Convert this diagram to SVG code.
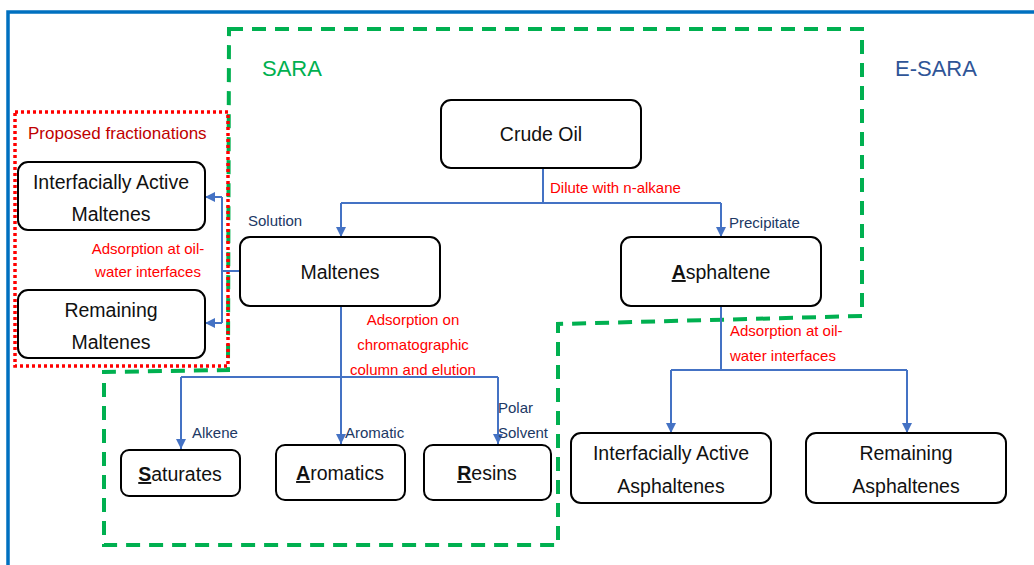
<svg xmlns="http://www.w3.org/2000/svg" width="1034" height="565" viewBox="0 0 1034 565">
<defs>
<marker id="arr" viewBox="0 0 10 10" refX="10" refY="5" markerWidth="5" markerHeight="5" orient="auto" markerUnits="strokeWidth">
<path d="M0,0 L10,5 L0,10 z" fill="#4472C4"/>
</marker>
<style>
.box{fill:#fff;stroke:#000;stroke-width:2}
.t{font-family:"Liberation Sans",Arial,sans-serif;font-size:19.5px;fill:#111;text-anchor:middle}
.lbl{font-family:"Liberation Sans",Arial,sans-serif;font-size:15px;fill:#203864}
.red{font-family:"Liberation Sans",Arial,sans-serif;font-size:15px;fill:#FF0000}
.con{fill:none;stroke:#4472C4;stroke-width:2}
.u{font-weight:bold;text-decoration:underline}
</style>
</defs>
<rect width="1034" height="565" fill="#fff"/>
<path d="M8,565 V12 H1034" fill="none" stroke="#0070C0" stroke-width="3.5"/>
<g id="sara-region">
<path d="M229,29 H862 V316 L558,324 V545 H104 V372 L228,370 Z" fill="none" stroke="#00B050" stroke-width="4" stroke-dasharray="14,9"/>
<text x="262" y="76" style="font-family:'Liberation Sans',Arial,sans-serif;font-size:22px;fill:#00B050">SARA</text>
</g>
<g id="esara-label">
<text x="895" y="76" style="font-family:'Liberation Sans',Arial,sans-serif;font-size:22px;fill:#2F5597">E-SARA</text>
</g>
<g id="proposed-region">
<rect x="15" y="112" width="213" height="254" fill="none" stroke="#FF0000" stroke-width="3.5" stroke-dasharray="3,3"/>
<text x="28" y="139" style="font-family:'Liberation Sans',Arial,sans-serif;font-size:17px;fill:#C00000">Proposed fractionations</text>
</g>
<g id="connectors">
<path class="con" d="M543,168 V203"/>
<path class="con" d="M341,203 H721"/>
<path class="con" d="M341,203 V237" marker-end="url(#arr)"/>
<path class="con" d="M721,203 V237" marker-end="url(#arr)"/>
<path class="con" d="M240,271 H222"/>
<path class="con" d="M222,197 V323"/>
<path class="con" d="M222,197 H205" marker-end="url(#arr)"/>
<path class="con" d="M222,323 H205" marker-end="url(#arr)"/>
<path class="con" d="M341,306 V444" marker-end="url(#arr)"/>
<path class="con" d="M181,377 H498"/>
<path class="con" d="M181,377 V449" marker-end="url(#arr)"/>
<path class="con" d="M498,377 V444" marker-end="url(#arr)"/>
<path class="con" d="M721,306 V370"/>
<path class="con" d="M671,370 H907"/>
<path class="con" d="M671,370 V433" marker-end="url(#arr)"/>
<path class="con" d="M907,370 V433" marker-end="url(#arr)"/>
<text class="red" x="550" y="193">Dilute with n-alkane</text>
<text class="lbl" x="248" y="226">Solution</text>
<text class="lbl" x="729" y="228">Precipitate</text>
<text class="red" x="148" y="254" text-anchor="middle">Adsorption at oil-</text>
<text class="red" x="148" y="277" text-anchor="middle">water interfaces</text>
<text class="red" x="413" y="325" text-anchor="middle">Adsorption on</text>
<text class="red" x="413" y="350" text-anchor="middle">chromatographic</text>
<text class="red" x="413" y="375" text-anchor="middle">column and elution</text>
<text class="lbl" x="192" y="438">Alkene</text>
<text class="lbl" x="345" y="438">Aromatic</text>
<text class="lbl" x="498" y="413">Polar</text>
<text class="lbl" x="498" y="438">Solvent</text>
<text class="red" x="730" y="336">Adsorption at oil-</text>
<text class="red" x="730" y="361">water interfaces</text>
</g>
<g id="crude-oil">
<rect class="box" x="441" y="100" width="200" height="68" rx="10"/>
<text class="t" x="541" y="141">Crude Oil</text>
</g>
<g id="maltenes">
<rect class="box" x="240" y="237" width="200" height="69" rx="10"/>
<text class="t" x="340" y="279">Maltenes</text>
</g>
<g id="asphaltene">
<rect class="box" x="621" y="237" width="200" height="69" rx="10"/>
<text class="t" x="721" y="279"><tspan class="u">A</tspan>sphaltene</text>
</g>
<g id="ia-maltenes">
<rect class="box" x="18" y="162" width="187" height="68" rx="10"/>
<text class="t" x="111" y="189">Interfacially Active</text>
<text class="t" x="111" y="221">Maltenes</text>
</g>
<g id="remaining-maltenes">
<rect class="box" x="18" y="290" width="187" height="68" rx="10"/>
<text class="t" x="111" y="317">Remaining</text>
<text class="t" x="111" y="349">Maltenes</text>
</g>
<g id="saturates">
<rect class="box" x="121" y="450" width="119" height="46" rx="8"/>
<text class="t" x="180" y="481"><tspan class="u">S</tspan>aturates</text>
</g>
<g id="aromatics">
<rect class="box" x="276" y="445" width="129" height="55" rx="9"/>
<text class="t" x="340" y="480"><tspan class="u">A</tspan>romatics</text>
</g>
<g id="resins">
<rect class="box" x="424" y="445" width="127" height="55" rx="9"/>
<text class="t" x="487" y="480"><tspan class="u">R</tspan>esins</text>
</g>
<g id="ia-asphaltenes">
<rect class="box" x="571" y="433" width="200" height="70" rx="10"/>
<text class="t" x="671" y="460">Interfacially Active</text>
<text class="t" x="671" y="493">Asphaltenes</text>
</g>
<g id="remaining-asphaltenes">
<rect class="box" x="806" y="433" width="200" height="70" rx="10"/>
<text class="t" x="906" y="460">Remaining</text>
<text class="t" x="906" y="493">Asphaltenes</text>
</g>
</svg>
